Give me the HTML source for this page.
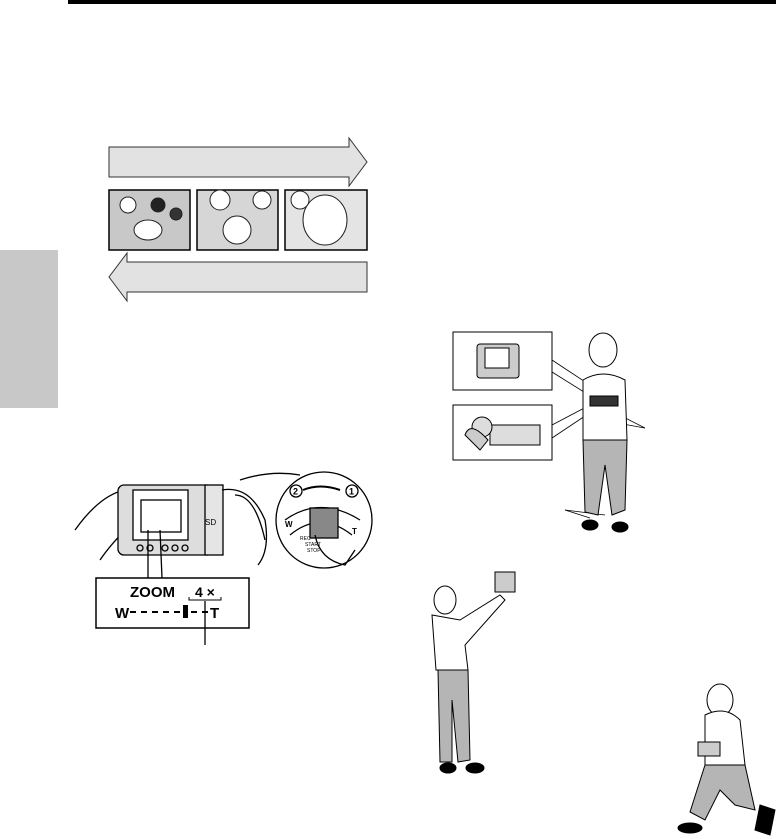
<!DOCTYPE html>
<html><head><meta charset="utf-8"><style>
html,body{margin:0;padding:0;background:#fff;width:776px;height:839px;overflow:hidden}
text{font-family:"Liberation Sans",sans-serif}
</style></head><body>
<svg width="776" height="839" viewBox="0 0 776 839" xmlns="http://www.w3.org/2000/svg">
<!-- top bar -->
<rect x="68" y="0" width="708" height="4" fill="#000"/>
<!-- left tab -->
<rect x="0" y="250" width="58" height="158" fill="#c8c8c8"/>
<!-- arrows -->
<polygon points="109,147 349,147 349,138 367,162 349,186 349,177 109,177" fill="#e2e2e2" stroke="#333" stroke-width="1"/>
<polygon points="367,262 127,262 127,253 109,277 127,301 127,292 367,292" fill="#e2e2e2" stroke="#333" stroke-width="1"/>
<!-- photos -->
<g stroke="#000" stroke-width="1.5">
<rect x="109" y="190" width="81" height="60" fill="#c8c8c8"/>
<rect x="197" y="190" width="81" height="60" fill="#d6d6d6"/>
<rect x="285" y="190" width="82" height="60" fill="#e4e4e4"/>
</g>
<g fill="#fff" stroke="#222" stroke-width="1">
<circle cx="128" cy="205" r="8"/><circle cx="158" cy="205" r="7" fill="#222"/><circle cx="176" cy="214" r="6" fill="#333"/>
<ellipse cx="148" cy="230" rx="14" ry="10"/>
<circle cx="220" cy="200" r="10"/><circle cx="262" cy="200" r="9"/><ellipse cx="237" cy="230" rx="14" ry="14"/>
<ellipse cx="325" cy="220" rx="22" ry="25"/><circle cx="300" cy="200" r="9"/>
</g>
<!-- camera illustration -->
<g stroke="#000" stroke-width="1.3" fill="none">
<path d="M75,530 Q100,495 125,490 L130,525 Q110,545 100,560"/>
<rect x="118" y="485" width="95" height="70" rx="6" fill="#ddd"/>
<rect x="133" y="490" width="55" height="50" fill="#fff"/>
<rect x="141" y="500" width="40" height="32" fill="#fff"/>
<circle cx="140" cy="548" r="3"/><circle cx="150" cy="548" r="3"/><circle cx="165" cy="548" r="3"/><circle cx="175" cy="548" r="3"/><circle cx="185" cy="548" r="3"/>
<rect x="205" y="485" width="18" height="70" fill="#e5e5e5"/>
<path d="M222,490 Q250,485 265,520 Q270,550 258,565"/>
<path d="M235,495 Q255,495 265,540"/>
<circle cx="324" cy="520" r="48" fill="#fff"/>
<path d="M240,480 Q270,470 300,475"/>
<path d="M285,520 Q320,495 360,520"/>
<path d="M290,535 Q320,510 352,535"/>
<rect x="310" y="508" width="28" height="30" fill="#888"/>
<path d="M315,535 Q320,560 345,565 L355,550"/>
<path d="M303,490 Q320,483 340,490" stroke-width="2"/>
<circle cx="296" cy="491" r="6"/><circle cx="352" cy="491" r="6"/>
</g>
<text x="293" y="494.5" font-size="9" font-weight="bold">2</text>
<text x="349" y="494.5" font-size="9" font-weight="bold">1</text>
<text x="285" y="527" font-size="8" font-weight="bold">W</text>
<text x="352" y="534" font-size="8" font-weight="bold">T</text>
<text x="300" y="540" font-size="5">REC</text>
<text x="305" y="546" font-size="5">START</text>
<text x="307" y="552" font-size="5">STOP</text>
<text x="205" y="525" font-size="8">SD</text>
<!-- zoom box -->
<line x1="148" y1="530" x2="148" y2="578" stroke="#000" stroke-width="1.3"/>
<line x1="160" y1="530" x2="162" y2="578" stroke="#000" stroke-width="1.3"/>
<rect x="96" y="578" width="153" height="50" fill="#fff" stroke="#000" stroke-width="1.5"/>
<text x="130" y="597" font-size="15" font-weight="bold">ZOOM</text>
<text x="195" y="597" font-size="14" font-weight="bold">4 ×</text>
<path d="M189,597 v3 h32 v-3" stroke="#000" fill="none"/>
<text x="115" y="618" font-size="15" font-weight="bold">W</text>
<line x1="130" y1="612" x2="182" y2="612" stroke="#000" stroke-width="2" stroke-dasharray="6,5"/>
<rect x="183" y="605" width="5" height="13" fill="#000"/>
<line x1="191" y1="612" x2="208" y2="612" stroke="#000" stroke-width="2" stroke-dasharray="6,5"/>
<text x="210" y="618" font-size="15" font-weight="bold">T</text>
<line x1="205" y1="601" x2="205" y2="645" stroke="#000" stroke-width="1.3"/>
<!-- right insets -->
<g stroke="#000" stroke-width="1">
<rect x="453" y="332" width="99" height="58" fill="#fff"/>
<rect x="453" y="405" width="99" height="55" fill="#fff"/>
<rect x="477" y="344" width="42" height="34" rx="3" fill="#ccc"/>
<rect x="485" y="348" width="24" height="20" fill="#fff"/>
<rect x="490" y="425" width="50" height="20" fill="#ddd"/>
<circle cx="482" cy="427" r="10" fill="#ddd"/>
<path d="M465,435 Q470,420 488,440 L480,450 Z" fill="#ccc"/>
</g>
<g stroke="#000" stroke-width="0.8">
<line x1="552" y1="360" x2="605" y2="395"/><line x1="552" y1="372" x2="600" y2="402"/>
<line x1="552" y1="425" x2="590" y2="405"/><line x1="552" y1="438" x2="594" y2="410"/>
<line x1="645" y1="428" x2="590" y2="400"/><line x1="645" y1="428" x2="600" y2="420"/>
<line x1="565" y1="510" x2="590" y2="518"/><line x1="565" y1="510" x2="605" y2="515"/>
</g>
<!-- standing woman -->
<g stroke="#000" stroke-width="1">
<ellipse cx="603" cy="350" rx="14" ry="17" fill="#fff"/>
<path d="M583,380 Q603,368 625,380 L627,440 L583,440 Z" fill="#fff"/>
<path d="M583,440 L627,440 L625,510 L612,515 L605,465 L598,515 L585,512 Z" fill="#b5b5b5"/>
<ellipse cx="590" cy="525" rx="8" ry="5" fill="#000"/><ellipse cx="620" cy="527" rx="8" ry="5" fill="#000"/>
<rect x="590" y="396" width="28" height="10" fill="#333"/>
</g>
<!-- woman arms up -->
<g stroke="#000" stroke-width="1">
<ellipse cx="445" cy="600" rx="11" ry="14" fill="#fff"/>
<path d="M432,615 L460,620 L500,595 L505,600 L465,645 L468,670 L436,670 Z" fill="#fff"/>
<rect x="495" y="572" width="20" height="20" fill="#ccc"/>
<path d="M438,670 L468,670 L470,760 L458,762 L452,700 L452,762 L440,762 Z" fill="#b5b5b5"/>
<ellipse cx="448" cy="768" rx="8" ry="5" fill="#000"/><ellipse cx="475" cy="768" rx="9" ry="5" fill="#000"/>
</g>
<!-- kneeling woman -->
<g stroke="#000" stroke-width="1">
<ellipse cx="720" cy="700" rx="13" ry="16" fill="#fff"/>
<path d="M705,715 Q725,705 740,720 L745,765 L705,765 Z" fill="#fff"/>
<rect x="698" y="742" width="22" height="14" fill="#ccc"/>
<path d="M705,765 L745,765 L755,810 L735,805 L720,790 L705,820 L690,812 Z" fill="#b5b5b5"/>
<ellipse cx="690" cy="828" rx="12" ry="5" fill="#000"/><path d="M760,805 L775,810 L770,835 L755,830 Z" fill="#000"/>
</g>
</svg>
</body></html>
